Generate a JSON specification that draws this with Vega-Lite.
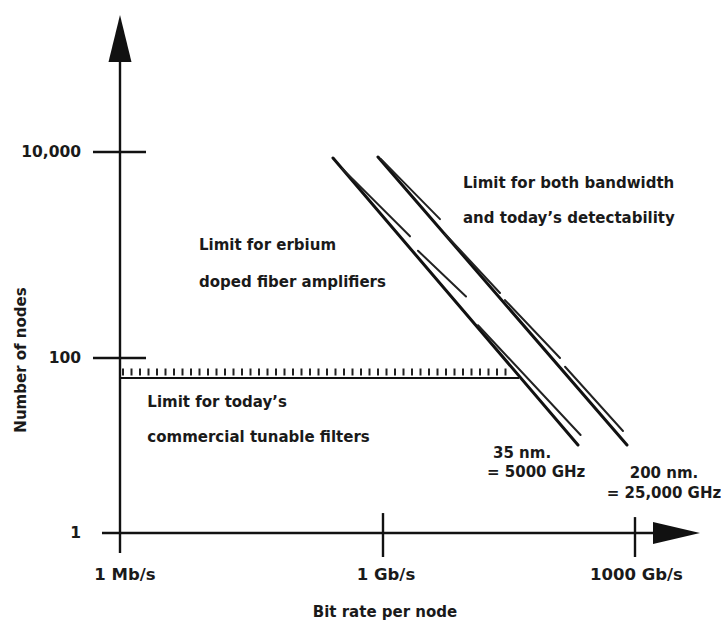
{
  "$schema": "https://vega.github.io/schema/vega-lite/v6.json",
  "width": 721,
  "height": 622,
  "padding": 0,
  "autosize": "none",
  "background": "white",
  "config": {"view": {"stroke": null}, "font": "DejaVu Sans"},
  "datasets": {
    "axes": [
      {"seg": "yaxis", "x": 1, "y": 0.59},
      {"seg": "yaxis", "x": 1, "y": 109000},
      {"seg": "xaxis", "x": 0.623, "y": 1},
      {"seg": "xaxis", "x": 3400000, "y": 1},
      {"seg": "t10000", "x": 0.492, "y": 10000},
      {"seg": "t10000", "x": 1.98, "y": 10000},
      {"seg": "t100", "x": 0.492, "y": 100},
      {"seg": "t100", "x": 1.98, "y": 100},
      {"seg": "t1G", "x": 1000, "y": 1.69},
      {"seg": "t1G", "x": 1000, "y": 0.532},
      {"seg": "t1000G", "x": 1000000, "y": 1.52},
      {"seg": "t1000G", "x": 1000000, "y": 0.532}
    ],
    "arrows": [
      {"dir": "up", "x": 1, "y": 126400},
      {"dir": "right", "x": 3120000, "y": 1}
    ],
    "thick": [
      {"seg": "35nm", "x": 269, "y": 8744},
      {"seg": "35nm", "x": 209600, "y": 10.13},
      {"seg": "200nm", "x": 877, "y": 8944},
      {"seg": "200nm", "x": 803000, "y": 10.13}
    ],
    "thin": [
      {"seg": "L1", "x": 343, "y": 6890},
      {"seg": "L1", "x": 2096, "y": 1518},
      {"seg": "L2", "x": 2610, "y": 1100},
      {"seg": "L2", "x": 9730, "y": 395},
      {"seg": "L3", "x": 13520, "y": 208},
      {"seg": "L3", "x": 225000, "y": 13.2},
      {"seg": "R1", "x": 949, "y": 8520},
      {"seg": "R1", "x": 4771, "y": 2230},
      {"seg": "R2", "x": 5472, "y": 1605},
      {"seg": "R2", "x": 24710, "y": 428},
      {"seg": "R3", "x": 28340, "y": 365},
      {"seg": "R3", "x": 128000, "y": 100},
      {"seg": "R4", "x": 147000, "y": 79.5},
      {"seg": "R4", "x": 719500, "y": 14.65}
    ],
    "filter": [
      {"x": 1, "y": 59.1},
      {"x": 41590, "y": 59.1}
    ],
    "hatch": [
      {"x": 1.054, "y": 69.2},
      {"x": 30760, "y": 69.2}
    ],
    "labels": [
      {"t": "10,000", "x": 0.359, "y": 10000, "role": "r"},
      {"t": "100", "x": 0.359, "y": 100, "role": "r"},
      {"t": "1", "x": 0.359, "y": 1, "role": "r"},
      {"t": "1 Mb/s", "x": 1.14, "y": 0.331, "role": "x"},
      {"t": "1 Gb/s", "x": 1086, "y": 0.331, "role": "x"},
      {"t": "1000 Gb/s", "x": 1042000, "y": 0.331, "role": "x"},
      {"t": "Bit rate per node", "x": 1056, "y": 0.125, "role": "c"},
      {"t": "200 nm.", "x": 2213000, "y": 4.85, "role": "c"},
      {"t": "= 25,000 GHz", "x": 2213000, "y": 2.865, "role": "c"},
      {"t": "Limit for erbium", "x": 7.96, "y": 1251, "role": "l"},
      {"t": "doped fiber amplifiers", "x": 7.96, "y": 547, "role": "l"},
      {"t": "Limit for both bandwidth", "x": 8954, "y": 5000, "role": "l"},
      {"t": "and today’s detectability", "x": 8954, "y": 2287, "role": "l"},
      {"t": "Limit for today’s", "x": 2.05, "y": 31.4, "role": "l"},
      {"t": "commercial tunable filters", "x": 2.05, "y": 12.51, "role": "l"},
      {"t": "35 nm.", "x": 20400, "y": 8.21, "role": "l"},
      {"t": "= 5000 GHz", "x": 17300, "y": 4.98, "role": "l"},
      {"t": "Number of nodes", "x": 0.0742, "y": 94.9, "role": "v"}
    ]
  },
  "layer": [
    {
      "data": {"name": "hatch"},
      "mark": {"type": "line", "color": "#222", "strokeWidth": 7, "strokeDash": [2, 6.5], "strokeCap": "butt"},
      "encoding": {
        "x": {"field": "x", "type": "quantitative", "axis": null, "scale": {"type": "log", "domain": [1, 1000, 1000000], "range": [120, 383, 635], "nice": false}},
        "y": {"field": "y", "type": "quantitative", "axis": null, "scale": {"type": "log", "domain": [1, 100, 10000], "range": [533, 358, 152], "nice": false}}
      }
    },
    {
      "data": {"name": "filter"},
      "mark": {"type": "line", "color": "#111", "strokeWidth": 2.2},
      "encoding": {
        "x": {"field": "x", "type": "quantitative", "axis": null},
        "y": {"field": "y", "type": "quantitative", "axis": null}
      }
    },
    {
      "data": {"name": "axes"},
      "mark": {"type": "line", "color": "#111", "strokeWidth": 2.4},
      "encoding": {
        "x": {"field": "x", "type": "quantitative", "axis": null},
        "y": {"field": "y", "type": "quantitative", "axis": null},
        "detail": {"field": "seg"}
      }
    },
    {
      "data": {"name": "arrows"},
      "mark": {"type": "point", "filled": true, "color": "#111", "opacity": 1, "size": 2209, "strokeWidth": 0},
      "encoding": {
        "x": {"field": "x", "type": "quantitative", "axis": null},
        "y": {"field": "y", "type": "quantitative", "axis": null},
        "shape": {"field": "dir", "type": "nominal", "legend": null, "scale": {"domain": ["up", "right"], "range": ["M0,-1L0.49,1L-0.49,1Z", "M1,0L-1,-0.47L-1,0.47Z"]}}
      }
    },
    {
      "data": {"name": "thick"},
      "mark": {"type": "line", "color": "#111", "strokeWidth": 3, "strokeCap": "round"},
      "encoding": {
        "x": {"field": "x", "type": "quantitative", "axis": null},
        "y": {"field": "y", "type": "quantitative", "axis": null},
        "detail": {"field": "seg"}
      }
    },
    {
      "data": {"name": "thin"},
      "mark": {"type": "line", "color": "#222", "strokeWidth": 2, "strokeCap": "round"},
      "encoding": {
        "x": {"field": "x", "type": "quantitative", "axis": null},
        "y": {"field": "y", "type": "quantitative", "axis": null},
        "detail": {"field": "seg"}
      }
    },
    {
      "data": {"name": "labels"},
      "transform": [{"filter": "datum.role === 'r'"}],
      "mark": {"type": "text", "align": "right", "baseline": "middle", "fontSize": 15.5, "fontWeight": "bold", "color": "#1a1a1a"},
      "encoding": {
        "x": {"field": "x", "type": "quantitative", "axis": null},
        "y": {"field": "y", "type": "quantitative", "axis": null},
        "text": {"field": "t"}
      }
    },
    {
      "data": {"name": "labels"},
      "transform": [{"filter": "datum.role === 'x'"}],
      "mark": {"type": "text", "align": "center", "baseline": "middle", "fontSize": 16.5, "fontWeight": "bold", "color": "#1a1a1a"},
      "encoding": {
        "x": {"field": "x", "type": "quantitative", "axis": null},
        "y": {"field": "y", "type": "quantitative", "axis": null},
        "text": {"field": "t"}
      }
    },
    {
      "data": {"name": "labels"},
      "transform": [{"filter": "datum.role === 'c'"}],
      "mark": {"type": "text", "align": "center", "baseline": "middle", "fontSize": 15, "fontWeight": "bold", "color": "#1a1a1a"},
      "encoding": {
        "x": {"field": "x", "type": "quantitative", "axis": null},
        "y": {"field": "y", "type": "quantitative", "axis": null},
        "text": {"field": "t"}
      }
    },
    {
      "data": {"name": "labels"},
      "transform": [{"filter": "datum.role === 'l'"}],
      "mark": {"type": "text", "align": "left", "baseline": "middle", "fontSize": 15, "fontWeight": "bold", "color": "#1a1a1a"},
      "encoding": {
        "x": {"field": "x", "type": "quantitative", "axis": null},
        "y": {"field": "y", "type": "quantitative", "axis": null},
        "text": {"field": "t"}
      }
    },
    {
      "data": {"name": "labels"},
      "transform": [{"filter": "datum.role === 'v'"}],
      "mark": {"type": "text", "align": "center", "baseline": "middle", "angle": 270, "fontSize": 15, "fontWeight": "bold", "color": "#1a1a1a"},
      "encoding": {
        "x": {"field": "x", "type": "quantitative", "axis": null},
        "y": {"field": "y", "type": "quantitative", "axis": null},
        "text": {"field": "t"}
      }
    }
  ]
}
